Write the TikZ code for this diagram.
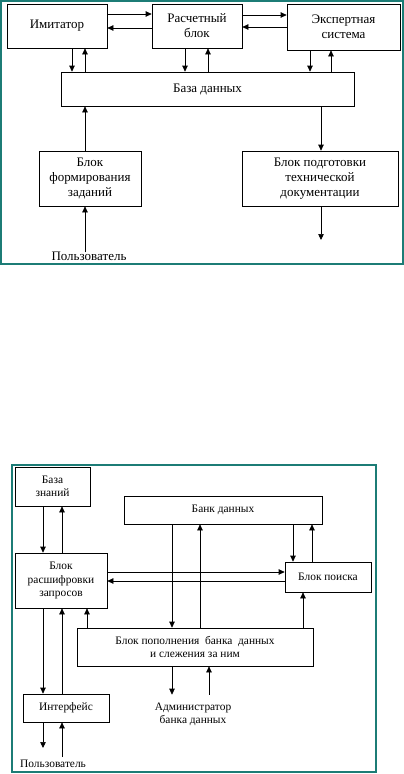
\documentclass[tikz,border=0pt]{standalone}
\usepackage{fontspec}
\setmainfont{Liberation Serif}
\usepackage{tikz}
\usetikzlibrary{arrows.meta}
\definecolor{frameteal}{RGB}{28,124,118}

\begin{document}
\begin{tikzpicture}[x=1pt,y=1pt,yscale=-1,xscale=1,
  blk/.style={draw, line width=0.7pt, inner sep=0pt, align=center, font=\fontsize{13}{15}\selectfont},
  blks/.style={blk, font=\fontsize{11.4}{13.5}\selectfont},
  arr/.style={line width=0.7pt, -{Triangle[length=6pt,width=5.5pt]}},
  lbl/.style={inner sep=3pt, align=center, font=\fontsize{13}{15}\selectfont},
  lbls/.style={lbl, font=\fontsize{11.4}{13.5}\selectfont}]

\useasboundingbox (0,0) rectangle (404,774);

\draw [frameteal, line width=1.2pt] (1,1) rectangle (403,264);

\draw [frameteal, line width=1.2pt] (12,465) rectangle (376,772);



\node [blk, minimum width=100, minimum height=44] (imit) at (57,26) {Имитатор};

\node [blk, minimum width=90, minimum height=44] (calc) at (197,26) {Расчетный\\блок};

\node [blk, minimum width=113, minimum height=46] (expert) at (343.5,27) {Экспертная\\система};

\node [blk, minimum width=293, minimum height=34] (db) at (207.5,89) {База данных};

\node [blk, minimum width=102, minimum height=55] (task) at (90,178.5) {Блок\\формирования\\заданий};

\node [blk, minimum width=156, minimum height=55] (docs) at (320,178.5) {Блок подготовки\\технической\\документации};

\node [lbl] (user) at (89,256) {Пользователь};

\coordinate (docsout) at (321,240);



\draw [arr] (imit.east |- 0,14) -- (calc.west |- 0,14);

\draw [arr] (calc.west |- 0,28) -- (imit.east |- 0,28);

\draw [arr] (calc.east |- 0,15) -- (expert.west |- 0,15);

\draw [arr] (expert.west |- 0,27) -- (calc.east |- 0,27);

\draw [arr] (imit.south -| 72,0) -- (db.north -| 72,0);

\draw [arr] (db.north -| 85,0) -- (imit.south -| 85,0);

\draw [arr] (calc.south -| 185,0) -- (db.north -| 185,0);

\draw [arr] (db.north -| 208,0) -- (calc.south -| 208,0);

\draw [arr] (expert.south -| 310,0) -- (db.north -| 310,0);

\draw [arr] (db.north -| 331,0) -- (expert.south -| 331,0);

\draw [arr] (task.north -| 85,0) -- (db.south -| 85,0);

\draw [arr] (db.south -| 321,0) -- (docs.north -| 321,0);

\draw [arr] (docs.south -| docsout) -- (docsout);

\draw [arr] ([yshift=4]user.north -| 85,0) -- (task.south -| 85,0);



\node [blks, minimum width=75, minimum height=39] (kb) at (52.5,486.5) {База\\знаний};

\node [blks, minimum width=198, minimum height=28] (bank) at (223,510) {Банк данных};

\node [blks, minimum width=92, minimum height=55] (decode) at (61,580.5) {Блок\\расшифровки\\запросов};

\node [blks, minimum width=86, minimum height=30] (search) at (328,577) {Блок поиска};

\node [blks, minimum width=236, minimum height=38] (fill) at (195,647) {Блок пополнения\ \ банка\ \ данных\\и слежения за ним};

\node [blks, minimum width=86, minimum height=28] (iface) at (66,708) {Интерфейс};

\node [lbls, inner ysep=8pt] (admin) at (193,714.5) {Администратор\\банка данных};

\node [lbls, anchor=west] (user2) at (17,764) {Пользователь};

\coordinate (ifaceout) at (43,748);



\draw [arr] (kb.south -| 43,0) -- (decode.north -| 43,0);

\draw [arr] (decode.north -| 62,0) -- (kb.south -| 62,0);

\draw [arr] (decode.east |- 0,572) -- (search.west |- 0,572);

\draw [arr] (search.west |- 0,581) -- (decode.east |- 0,581);

\draw [arr] (bank.south -| 293,0) -- (search.north -| 293,0);

\draw [arr] (search.north -| 312,0) -- (bank.south -| 312,0);

\draw [arr] (bank.south -| 172,0) -- (fill.north -| 172,0);

\draw [arr] (fill.north -| 200,0) -- (bank.south -| 200,0);

\draw [arr] (fill.north -| 303,0) -- (search.south -| 303,0);

\draw [arr] (decode.south -| 43,0) -- (iface.north -| 43,0);

\draw [arr] (iface.north -| 62,0) -- (decode.south -| 62,0);

\draw [arr] (fill.north -| 87,0) -- (decode.south -| 87,0);

\draw [arr] (fill.south -| 172,0) -- (admin.north -| 172,0);

\draw [arr] (admin.north -| 209,0) -- (fill.south -| 209,0);

\draw [arr] (iface.south -| ifaceout) -- (ifaceout);

\draw [arr] (user2.north -| 62,0) -- (iface.south -| 62,0);

\end{tikzpicture}
\end{document}
